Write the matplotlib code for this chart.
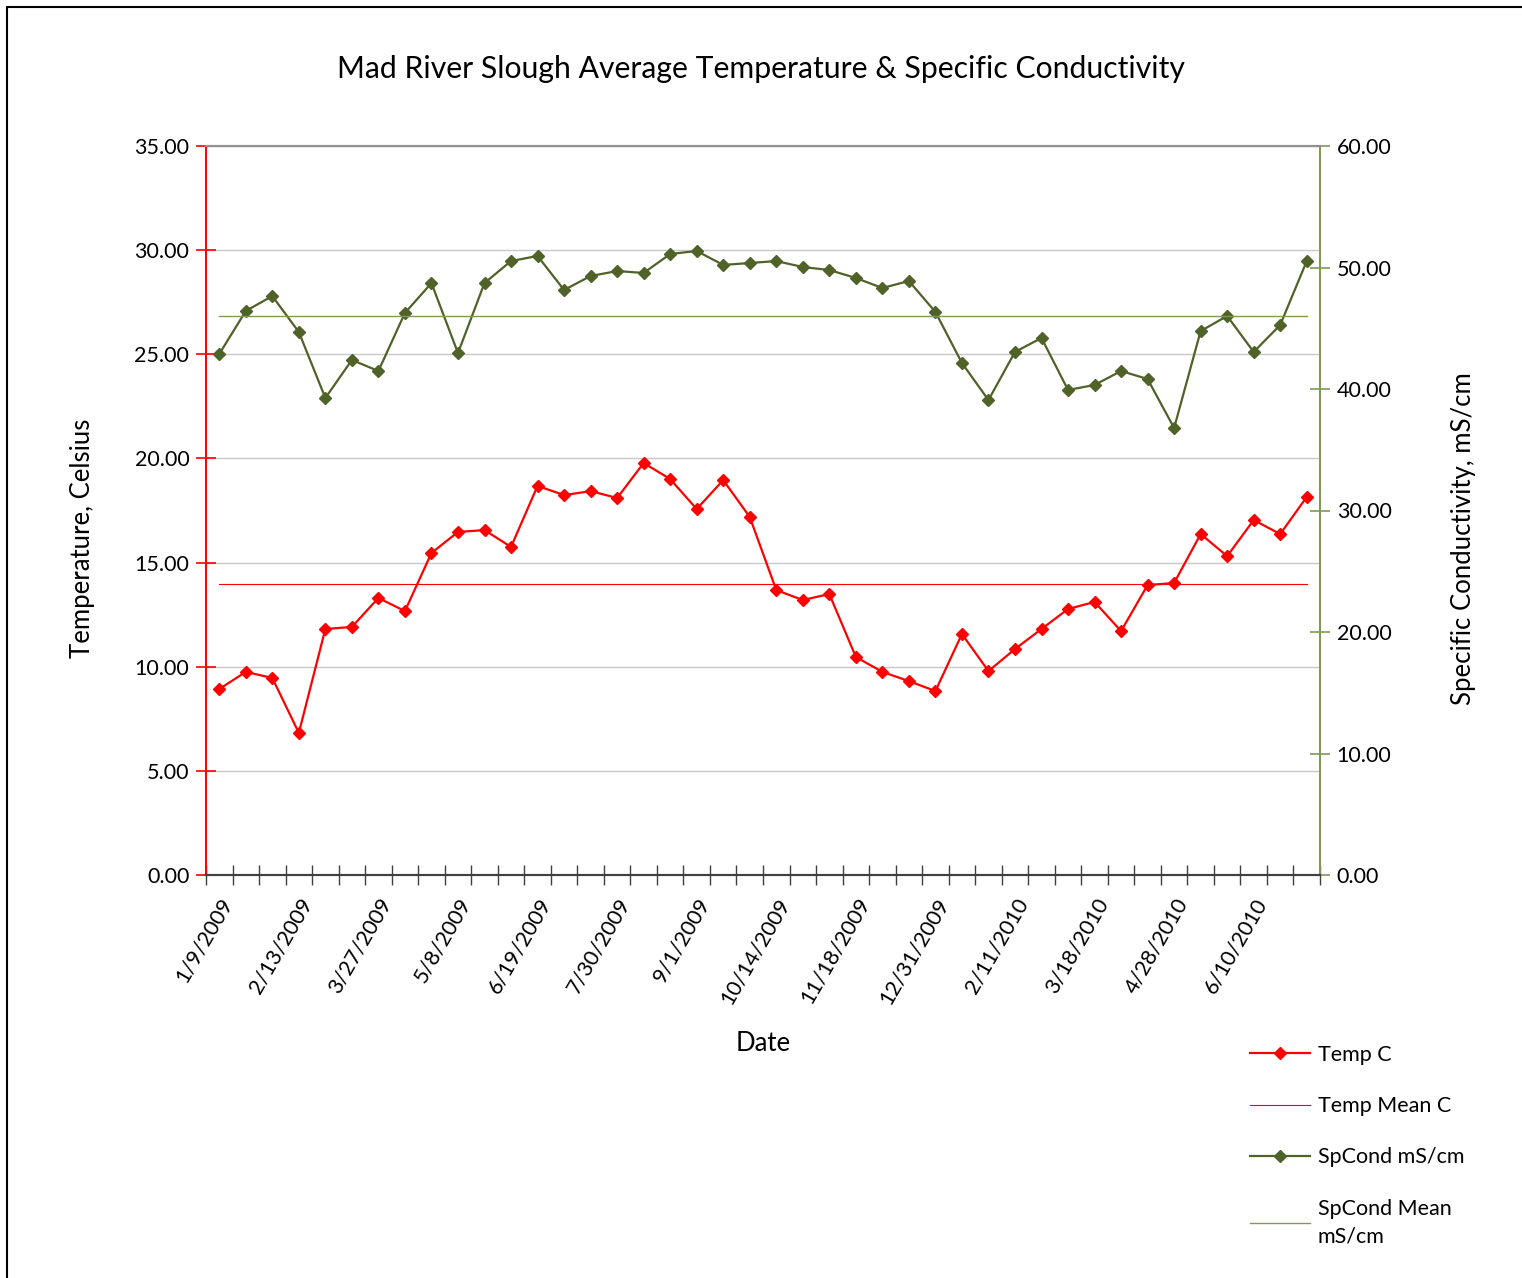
import matplotlib
matplotlib.use("Agg")
import matplotlib.pyplot as plt
from matplotlib.patches import Rectangle
import numpy as np

plt.rcParams['font.family'] = ['Lato', 'DejaVu Sans']

# every third sampling date is labelled on the category axis
date_labels = ["1/9/2009", "2/13/2009", "3/27/2009", "5/8/2009", "6/19/2009",
               "7/30/2009", "9/1/2009", "10/14/2009", "11/18/2009", "12/31/2009",
               "2/11/2010", "3/18/2010", "4/28/2010", "6/10/2010"]

temp_c = [8.93, 9.75, 9.46, 6.82, 11.81, 11.91, 13.30, 12.67, 15.46, 16.47,
          16.56, 15.75, 18.68, 18.24, 18.43, 18.10, 19.78, 19.01, 17.57, 18.96,
          17.19, 13.68, 13.20, 13.49, 10.47, 9.75, 9.31, 8.83, 11.57, 9.79,
          10.85, 11.81, 12.77, 13.11, 11.71, 13.92, 14.02, 16.37, 15.31, 17.04,
          16.37, 18.15]
temp_mean = 13.97

spcond = [42.88, 46.42, 47.65, 44.69, 39.26, 42.39, 41.48, 46.26, 48.72, 42.96,
          48.72, 50.53, 50.95, 48.15, 49.30, 49.71, 49.55, 51.11, 51.36, 50.21,
          50.37, 50.53, 50.04, 49.79, 49.14, 48.31, 48.89, 46.34, 42.14, 39.09,
          43.05, 44.20, 39.92, 40.33, 41.48, 40.82, 36.79, 44.77, 46.01, 43.05,
          45.27, 50.53]
spcond_mean = 46.0

RED = "#FF0000"
OLIVE = "#4F6228"
OLIVE_LIGHT = "#7F9A55"

n = len(temp_c)
x = np.arange(n)

fig = plt.figure(figsize=(15.22, 12.78), dpi=100)
fig.patches.append(Rectangle((7 / 1522, -0.05), 1.1, 1 - 7 / 1278 + 0.05,
                             transform=fig.transFigure, fill=False,
                             edgecolor="black", lw=1.5))

ax = fig.add_axes([206 / 1522, 1 - 875 / 1278, 1114 / 1522, 729 / 1278])
ax2 = ax.twinx()

l1, = ax.plot(x, temp_c, color=RED, lw=1.6, marker="D", ms=6.5, label="Temp C")
l2, = ax.plot(x, [temp_mean] * n, color=RED, lw=0.8, label="Temp Mean C")
l3, = ax2.plot(x, spcond, color=OLIVE, lw=1.6, marker="D", ms=6.5,
               label="SpCond mS/cm")
l4, = ax2.plot(x, [spcond_mean] * n, color=OLIVE_LIGHT, lw=1.0,
               label="SpCond Mean\nmS/cm")

ax.set_xlim(-0.5, n - 0.5)
ax.set_ylim(0, 35)
ax2.set_ylim(0, 60)
ax.set_yticks(np.arange(0, 35.1, 5))
ax2.set_yticks(np.arange(0, 60.1, 10))
ax.yaxis.set_major_formatter(matplotlib.ticker.FormatStrFormatter("%.2f"))
ax2.yaxis.set_major_formatter(matplotlib.ticker.FormatStrFormatter("%.2f"))

ax.grid(axis="y", color="#C8C8C8", lw=1)
ax.set_axisbelow(True)

# category axis: ticks between categories, labels on every third one
ax.set_xticks(np.arange(-0.5, n, 1))
ax.set_xticklabels([])
ax.set_xticks(np.arange(0, n, 3), minor=True)
ax.set_xticklabels(date_labels, minor=True, rotation=60, ha="right",
                   va="top", rotation_mode="anchor", fontsize=15.5)
ax.tick_params(axis="x", which="major", direction="inout", length=14,
               color="#404040", width=1)
ax.tick_params(axis="x", which="minor", length=0, pad=14)

ax.tick_params(axis="y", direction="inout", length=14, color=RED, width=1.2,
               labelsize=15.5, pad=5)
ax2.tick_params(axis="y", direction="inout", length=14, color=OLIVE_LIGHT,
                width=1.2, labelsize=15.5, pad=5)

for a in (ax, ax2):
    a.spines["left"].set_color(RED)
    a.spines["left"].set_linewidth(1.3)
    a.spines["right"].set_color(OLIVE_LIGHT)
    a.spines["right"].set_linewidth(1.3)
    a.spines["bottom"].set_color("#404040")
    a.spines["bottom"].set_linewidth(1.5)
    a.spines["top"].set_color("#909090")
    a.spines["top"].set_linewidth(1.5)

ax.set_ylabel("Temperature, Celsius", fontsize=18.5, labelpad=28)
ax2.set_ylabel("Specific Conductivity, mS/cm", fontsize=18.5, labelpad=43)
ax.yaxis.label.set_y(0.462)
ax2.yaxis.label.set_y(0.462)
ax.set_xlabel("Date", fontsize=18.5, labelpad=17)

fig.text(761 / 1522, 1 - 69 / 1278,
         "Mad River Slough Average Temperature & Specific Conductivity",
         ha="center", va="center", fontsize=21.7)

leg = fig.legend(handles=[l1, l2, l3, l4], loc="upper left",
                 bbox_to_anchor=(1250 / 1522, 1 - 1045 / 1278), frameon=False,
                 fontsize=15.5, handlelength=2.8, labelspacing=1.45,
                 handletextpad=0.35, borderaxespad=0, borderpad=0)
for t in leg.get_texts():
    t.set_linespacing(1.5)

fig.savefig("out.png", dpi=100)
